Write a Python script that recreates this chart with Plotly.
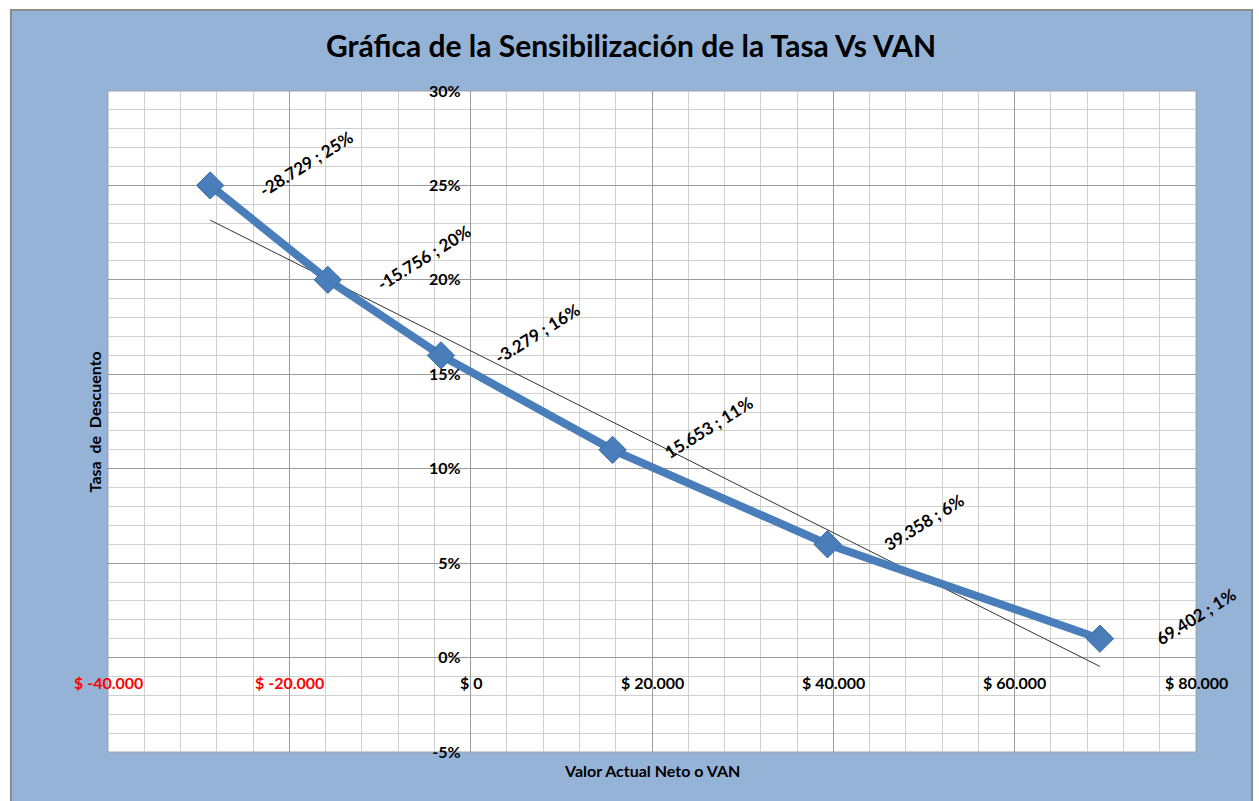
import numpy as np
import plotly.graph_objects as go

# Datos: VAN vs tasa de descuento
van = [-28729, -15756, -3279, 15653, 39358, 69402]
tasa = [25, 20, 16, 11, 6, 1]

x_ticks = [-40000, -20000, 0, 20000, 40000, 60000, 80000]
y_ticks = [-5, 0, 5, 10, 15, 20, 25, 30]

FONT = "Lato, 'Open Sans', sans-serif"
BLUE = "#4A7EBB"


def fmt_miles(v):
    return f"{v:,}".replace(",", ".")


fig = go.Figure()

# linea de tendencia (lineal)
m, b = np.polyfit(van, tasa, 1)
xt = [min(van), max(van)]
fig.add_trace(go.Scatter(x=xt, y=[m * v + b for v in xt], mode="lines",
                         line=dict(color="#333333", width=1), hoverinfo="skip"))

fig.add_trace(go.Scatter(x=van, y=tasa, mode="lines+markers",
                         line=dict(color=BLUE, width=8),
                         marker=dict(symbol="diamond", size=21, color=BLUE,
                                     line=dict(color="#3A6CA8", width=1))))

# etiquetas de datos
for v, t in zip(van, tasa):
    fig.add_annotation(x=v, y=t, text=f"{fmt_miles(v)} ; {t}%", showarrow=False,
                       xshift=96, yshift=22, textangle=-32,
                       font=dict(family=FONT, size=17, color="black", weight="bold"))

# etiquetas del eje x (a la altura del 0%)
for v in x_ticks:
    txt = f"$ {fmt_miles(v)}"
    fig.add_annotation(x=v, y=0, text=txt, showarrow=False, yshift=-25,
                       font=dict(family=FONT, size=16, weight="bold",
                                 color="red" if v < 0 else "black"))

fig.add_annotation(xref="paper", yref="paper", x=0.5, y=-0.028, yanchor="middle",
                   text="Valor Actual Neto o VAN", showarrow=False,
                   font=dict(family=FONT, size=16, weight="bold", color="black"))
fig.add_annotation(xref="paper", yref="paper", x=-0.012, y=0.5, xanchor="center", yanchor="middle",
                   text="Tasa  de  Descuento", textangle=-90, showarrow=False,
                   font=dict(family=FONT, size=16, weight="bold", color="black"))

# fondo azul con borde, y area blanca del grafico
fig.add_shape(type="rect", xref="paper", yref="paper", x0=-0.0892, x1=1.0515, y0=-0.1, y1=1.1225,
              fillcolor="#95B3D7", line=dict(color="#8C8C8C", width=2), layer="below")
fig.add_shape(type="rect", xref="paper", yref="paper", x0=0, x1=1, y0=0, y1=1,
              fillcolor="white", line=dict(color="#A0A0A0", width=1), layer="below")

fig.update_layout(
    width=1259, height=801,
    margin=dict(l=108, r=63, t=91, b=49),
    paper_bgcolor="white", plot_bgcolor="white",
    showlegend=False,
    title=dict(text="Gráfica de la Sensibilización de la Tasa Vs VAN", x=631 / 1259, y=1 - 46 / 801,
               xanchor="center", yanchor="middle",
               font=dict(family=FONT, size=30, weight="bold", color="black")),
    xaxis=dict(range=[-40000, 80000], tickvals=x_ticks, showticklabels=False, ticks="",
               showgrid=True, gridcolor="#9A9A9A", gridwidth=1,
               zeroline=True, zerolinecolor="#9A9A9A", zerolinewidth=1,
               minor=dict(dtick=4000, tick0=0, showgrid=True, gridcolor="#CFCFCF", gridwidth=1),
               showline=False),
    yaxis=dict(range=[-5, 30], tickvals=y_ticks, ticktext=[f"{t}%" for t in y_ticks],
               anchor="free", position=1 / 3, ticks="", ticklabelstandoff=10,
               tickfont=dict(family=FONT, size=16, weight="bold", color="black"),
               showgrid=True, gridcolor="#9A9A9A", gridwidth=1,
               zeroline=True, zerolinecolor="#9A9A9A", zerolinewidth=1,
               minor=dict(dtick=1, tick0=0, showgrid=True, gridcolor="#CFCFCF", gridwidth=1),
               showline=False),
)

# quitar el margen por defecto del body para que la figura empiece en (0, 0)
fig.write_html("out.html", config={"displayModeBar": False},
               post_script="document.body.style.margin='0';")
